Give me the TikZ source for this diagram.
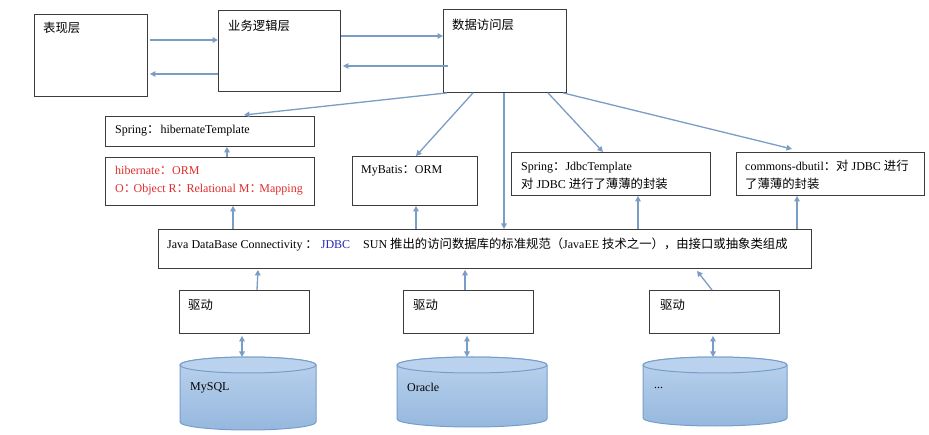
\documentclass[tikz,border=0pt]{standalone}
\usepackage{fontspec}
\setmainfont{Liberation Serif}
\newfontfamily\cjk[Scale=1.03]{Noto Sans CJK SC}
\usetikzlibrary{arrows.meta,calc}
\definecolor{arr}{RGB}{122,157,198}
\definecolor{bord}{RGB}{60,60,60}
\definecolor{redt}{RGB}{225,45,45}
\definecolor{bluet}{RGB}{40,40,190}
\definecolor{dbtop}{RGB}{186,210,237}
\definecolor{dbbot}{RGB}{150,184,222}
\definecolor{dbline}{RGB}{118,158,204}
\tikzset{
  box/.style={draw=bord, line width=0.9pt, inner sep=0pt, anchor=north west},
  txt/.style={anchor=west, inner sep=0pt, font=\fontsize{12}{18}\selectfont, align=left},
  conn/.style={draw=arr, line width=1.3pt, -{Triangle[length=5.5pt,width=5.5pt]}},
  dconn/.style={draw=arr, line width=1.3pt, {Triangle[length=5.5pt,width=5.5pt]}-{Triangle[length=5.5pt,width=5.5pt]}},
  dbshade/.style={top color=dbtop, bottom color=dbbot, draw=dbline, line width=1pt},
  dbtopst/.style={fill=dbtop, draw=dbline, line width=1pt}
}
\newcommand\mycyl[5]{%
  \shadedraw[dbshade] (#2-#3,#4) -- (#2-#3,#5)
    arc[start angle=180,end angle=0,x radius=#3,y radius=8] -- (#2+#3,#4)
    arc[start angle=0,end angle=-180,x radius=#3,y radius=8] -- cycle;
  \filldraw[dbtopst] (#2,#4) ellipse[x radius=#3,y radius=8];
  \coordinate (#1) at (#2,#4-8);
}
\begin{document}
\begin{tikzpicture}[x=1pt,y=-1pt]
\useasboundingbox (0,0) rectangle (929,435);
\fill[white] (0,0) rectangle (929,435);
% boxes
\node[box, minimum width=113pt, minimum height=82pt] (pres) at (34,14) {};
\node[box, minimum width=122pt, minimum height=81pt] (biz) at (218,10) {};
\node[box, minimum width=123pt, minimum height=83pt] (dao) at (443,9) {};
\node[box, minimum width=209pt, minimum height=30pt] (sht) at (105,116) {};
\node[box, minimum width=209pt, minimum height=48pt] (hib) at (105,157) {};
\node[box, minimum width=125pt, minimum height=49pt] (myb) at (352,156) {};
\node[box, minimum width=199pt, minimum height=43pt] (sjt) at (511,152) {};
\node[box, minimum width=188pt, minimum height=43pt] (cdb) at (736,152) {};
\node[box, minimum width=653pt, minimum height=39pt] (jdbc) at (158,229) {};
\node[box, minimum width=130pt, minimum height=43pt] (drv1) at (179,290) {};
\node[box, minimum width=130pt, minimum height=43pt] (drv2) at (403,290) {};
\node[box, minimum width=130pt, minimum height=43pt] (drv3) at (649,290) {};
% texts
\node[txt] (presT) at (43,28) {\cjk 表现层};
\node[txt] (bizT) at (228,26) {\cjk 业务逻辑层};
\node[txt] (daoT) at (452,25) {\cjk 数据访问层};
\node[txt] (shtT) at (115,131) {Spring{\cjk ：}\hspace{1pt}hibernateTemplate};
\node[txt, text=redt] (hibT) at (115,181) {hibernate{\cjk ：}ORM\\O{\cjk ：}\hspace{-2.5pt}Object R{\cjk ：}\hspace{-2.5pt}Relational M{\cjk ：}\hspace{-2.5pt}Mapping};
\node[txt] (mybT) at (361,171) {MyBatis{\cjk ：}ORM};
\node[txt] (sjtT) at (521,176) {Spring{\cjk ：}JdbcTemplate\\{\cjk 对} JDBC {\cjk 进行了薄薄的封装}};
\node[txt] (cdbT) at (745,175) {commons-dbutil{\cjk ：对} JDBC {\cjk 进行}\\{\cjk 了薄薄的封装}};
\node[txt] (jdbcT) at (167,245) {Java DataBase Connectivity\hspace{3pt}{\cjk ：}\hspace{3pt}{\color{bluet}JDBC}\hspace{13pt}SUN {\cjk 推出的访问数据库的标准规范（}JavaEE {\cjk 技术之一），由接口或抽象类组成}};
\node[txt] (drv1T) at (188,305) {\cjk 驱动};
\node[txt] (drv2T) at (413,305) {\cjk 驱动};
\node[txt] (drv3T) at (660,305) {\cjk 驱动};
% cylinders
\mycyl{db1}{248}{68}{365}{422}
\mycyl{db2}{472}{75}{365}{419}
\mycyl{db3}{715}{72}{365}{418}
\node[txt] (db1T) at (190,388) {MySQL};
\node[txt] (db2T) at (407,387) {Oracle};
\node[txt] (db3T) at (654,388) {...};
% top row arrows
\draw[conn, shorten <=2pt] (pres.east |- 0,40) -- (biz.west |- 0,40);
\draw[conn, shorten >=2pt] (biz.west |- 0,74) -- (pres.east |- 0,74);
\draw[conn] (biz.east |- 0,36) -- (dao.west |- 0,36);
\draw[conn, shorten >=2pt] ([xshift=5pt]dao.west |- 0,66) -- (biz.east |- 0,66);
% from data access layer
\draw[conn] ($(dao.south west)+(4,0)$) -- ($(sht.north west)+(139,-1)$);
\draw[conn] ($(dao.south west)+(30,0)$) -- ($(myb.north west)+(64,0)$);
\draw[conn] ($(dao.south west)+(61,0)$) -- ($(jdbc.north west)+(346,0)$);
\draw[conn] ($(dao.south west)+(105,0)$) -- ($(sjt.north west)+(92,0)$);
\draw[conn] ($(dao.south west)+(120,0)$) -- ($(cdb.north west)+(56,-3)$);
% up from jdbc
\draw[conn] ($(jdbc.north west)+(75,0)$) -- ($(hib.south west)+(128,0)$);
\draw[conn] ($(hib.north west)+(122,0)$) -- ($(sht.south west)+(122,0)$);
\draw[conn] ($(jdbc.north west)+(258,0)$) -- ($(myb.south west)+(64,0)$);
\draw[conn] ($(jdbc.north west)+(480,0)$) -- ($(sjt.south west)+(127,0)$);
\draw[conn] ($(jdbc.north west)+(639,0)$) -- ($(cdb.south west)+(61,0)$);
% drivers to jdbc
\draw[conn] ($(drv1.north west)+(78,0)$) -- ($(jdbc.south west)+(100,1)$);
\draw[conn] ($(drv2.north west)+(62,0)$) -- ($(jdbc.south west)+(307,1)$);
\draw[conn] ($(drv3.north west)+(63,0)$) -- ($(jdbc.south west)+(539,2)$);
% drivers to databases
\draw[dconn] ($(drv1.south west)+(63,2)$) -- (db1 -| {$(drv1.south west)+(63,0)$});
\draw[dconn] ($(drv2.south west)+(64,2)$) -- (db2 -| {$(drv2.south west)+(64,0)$});
\draw[dconn] ($(drv3.south west)+(64,2)$) -- (db3 -| {$(drv3.south west)+(64,0)$});
\end{tikzpicture}
\end{document}
